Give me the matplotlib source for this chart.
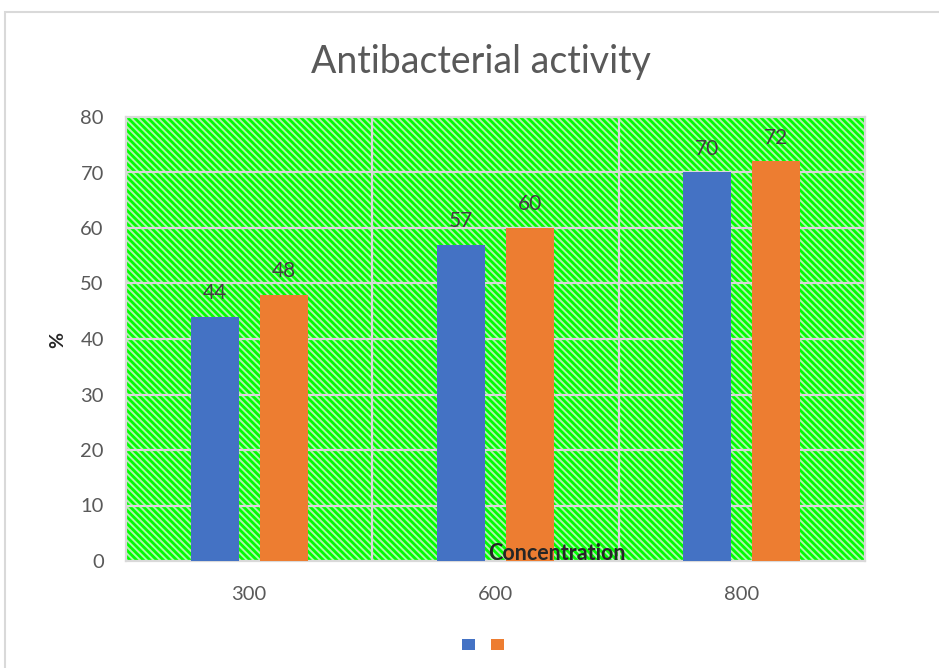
import matplotlib
matplotlib.use("Agg")
import matplotlib.pyplot as plt
from matplotlib.patches import Rectangle, Patch
import numpy as np

# Data
categories = ["300", "600", "800"]
series_a = [44, 57, 70]
series_b = [48, 60, 72]
y_ticks = [0, 10, 20, 30, 40, 50, 60, 70, 80]

title_text = "Antibacterial activity"
x_label = "Concentration"
y_label = "%"

blue = "#4472C4"
orange = "#ED7D31"
grid_gray = "#D9D9D9"
text_gray = "#595959"
green = "#00FF00"
stripe = "#B0F0B0"

plt.rcParams["font.family"] = ["Lato", "DejaVu Sans"]
plt.rcParams["hatch.color"] = stripe
plt.rcParams["hatch.linewidth"] = 1.4

fig = plt.figure(figsize=(9.39, 6.68), dpi=100)
fig.patch.set_facecolor("white")

# outer chart frame
fig.patches.append(Rectangle((5 / 939, -0.05), 1.2, 1 - 12 / 668 + 0.05,
                             transform=fig.transFigure, fill=False,
                             edgecolor=grid_gray, linewidth=1.5))

ax = fig.add_axes([126 / 939, 1 - 561 / 668, 739 / 939, 444 / 668])

x = np.arange(len(categories))
ax.set_xlim(-0.5, len(categories) - 0.5)
ax.set_ylim(0, 80)

# patterned plot area
ax.set_facecolor(green)
ax.add_patch(Rectangle((0, 0), 1, 1, transform=ax.transAxes,
                       facecolor=green, hatch="\\" * 5, edgecolor=stripe,
                       linewidth=0, zorder=0))

# gridlines
for yv in y_ticks[1:-1]:
    ax.axhline(yv, color=grid_gray, linewidth=1.6, zorder=1)
for xv in x[:-1] + 0.5:
    ax.axvline(xv, color=grid_gray, linewidth=1.6, zorder=1)

width = 0.195
offset = 0.14
bars_a = ax.bar(x - offset, series_a, width, color=blue, zorder=3)
bars_b = ax.bar(x + offset, series_b, width, color=orange, zorder=3)

for bars, vals in ((bars_a, series_a), (bars_b, series_b)):
    for b, v in zip(bars, vals):
        ax.annotate(f"{v}", (b.get_x() + b.get_width() / 2, v),
                    xytext=(0, 10), textcoords="offset points",
                    ha="center", va="bottom", fontsize=15, color="#404040",
                    zorder=4)

for s in ax.spines.values():
    s.set_color(grid_gray)
    s.set_linewidth(1.6)

ax.set_xticks(x)
ax.set_xticklabels(categories)
ax.set_yticks(y_ticks)
ax.tick_params(axis="both", length=0, labelsize=14.5, labelcolor=text_gray)
ax.tick_params(axis="x", pad=18)
ax.tick_params(axis="y", pad=16)

ax.text(557 / 939, 1 - 553 / 668, x_label, transform=fig.transFigure,
        ha="center", va="center", fontsize=15.5, fontweight="bold",
        color="#262626", zorder=5)
fig.text(58 / 939, 1 - 340 / 668, y_label, rotation=90, ha="center",
         va="center", fontsize=14, fontweight="bold", color="#262626")

fig.text(481 / 939, 1 - 62 / 668, title_text, ha="center", va="center",
         fontsize=27, color=text_gray)

handles = [Patch(facecolor=blue), Patch(facecolor=orange)]
fig.legend(handles, ["", ""], loc="center", bbox_to_anchor=(483 / 939, 1 - 645 / 668),
           ncol=2, frameon=False, handlelength=0.9, handleheight=0.9,
           handletextpad=0.0, columnspacing=1.2)

fig.savefig("out.png", dpi=100, facecolor="white")
